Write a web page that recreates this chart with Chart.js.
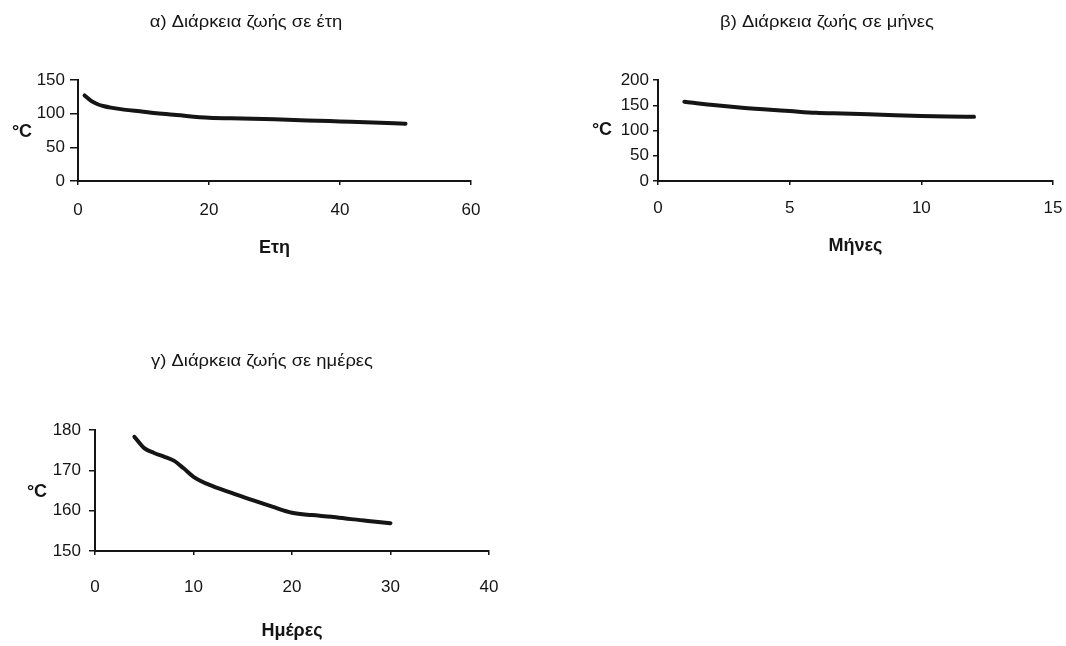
<!DOCTYPE html>
<html>
<head>
<meta charset="utf-8">
<script src="https://cdn.jsdelivr.net/npm/chart.js@4.4.1/dist/chart.umd.min.js"></script>
<style>
  html, body { margin: 0; padding: 0; background: #ffffff; }
  body { width: 1066px; height: 646px; position: relative; overflow: hidden; }
  canvas { position: absolute; }
</style>
</head>
<body>
<canvas id="cA" width="540" height="270" style="left:0px;top:0px;width:540px;height:270px"></canvas>
<canvas id="cB" width="520" height="270" style="left:560px;top:0px;width:520px;height:270px"></canvas>
<canvas id="cG" width="540" height="316" style="left:0px;top:330px;width:540px;height:316px"></canvas>
<script>
// ---- Data ----
const yearsX   = [1, 2, 3, 4, 5, 7, 10, 12, 15, 20, 25, 30, 35, 40, 45, 50];
const yearsY   = [127, 119, 114, 111, 109, 106, 103, 100.5, 98, 94, 92.8, 91.6, 90, 88.5, 87, 85];

const monthsX  = [1, 2, 3, 4, 5, 6, 7, 8, 9, 10, 11, 12];
const monthsY  = [157, 151, 146, 142, 138.5, 135, 133.5, 132, 130, 128.5, 127.5, 127];

const daysX    = [4, 5, 6, 7, 8, 9, 10, 12, 14, 16, 18, 20, 22, 24, 26, 28, 30];
const daysY    = [178.3, 175.5, 174.3, 173.4, 172.4, 170.5, 168.4, 166, 164.3, 162.6, 161, 159.5, 158.9, 158.5, 157.9, 157.4, 156.9];

const titles   = ['α) Διάρκεια ζωής σε έτη', 'β) Διάρκεια ζωής σε μήνες', 'γ) Διάρκεια ζωής σε ημέρες'];
const xTitles  = ['Ετη', 'Μήνες', 'Ημέρες'];
const yTitle   = '°C';

const xRangeA = [0, 60, 20],  yRangeA = [0, 150, 50];
const xRangeB = [0, 15, 5],   yRangeB = [0, 200, 50];
const xRangeG = [0, 40, 10],  yRangeG = [150, 180, 10];

// ---- Helpers ----
const INK = '#151515';
const FONT = "'Liberation Sans', Arial, sans-serif";

const freeText = {
  id: 'freeText',
  afterDraw(chart, args, opts) {
    const ctx = chart.ctx;
    (opts.items || []).forEach(it => {
      ctx.save();
      ctx.fillStyle = INK;
      ctx.textAlign = 'center';
      ctx.textBaseline = 'middle';
      ctx.font = it.font;
      ctx.translate(it.x, it.y);
      ctx.scale(it.sx || 1, 1);
      ctx.fillText(it.text, 0, 0);
      ctx.restore();
    });
  }
};

function makeChart(id, xs, ys, xr, yr, s) {
  const pts = xs.map((x, i) => ({ x: x, y: ys[i] }));
  return new Chart(document.getElementById(id), {
    type: 'line',
    data: {
      datasets: [{
        data: pts,
        borderColor: INK,
        borderWidth: 4,
        pointRadius: 0,
        fill: false,
        cubicInterpolationMode: 'monotone',
        borderCapStyle: 'round',
        borderJoinStyle: 'round'
      }]
    },
    options: {
      responsive: false,
      animation: false,
      devicePixelRatio: 1,
      layout: { padding: s.pad },
      plugins: {
        legend: { display: false },
        tooltip: { enabled: false },
        title: { display: false },
        freeText: { items: s.texts }
      },
      scales: {
        x: {
          type: 'linear',
          min: xr[0], max: xr[1],
          afterFit: sc => { sc.height = s.xHeight; },
          ticks: {
            stepSize: xr[2],
            color: INK,
            padding: s.xTickPad,
            maxRotation: 0,
            font: { family: FONT, size: 17 }
          },
          grid: { drawOnChartArea: false, drawTicks: true, tickLength: 4, color: INK, lineWidth: 1.5 },
          border: { display: true, color: INK, width: 2 },
          title: {
            display: true,
            text: s.xTitle,
            color: INK,
            font: { family: FONT, size: 18, weight: 'bold' },
            padding: { top: 0, bottom: s.xTitlePad }
          }
        },
        y: {
          type: 'linear',
          min: yr[0], max: yr[1],
          afterFit: sc => { sc.width = s.yWidth; },
          ticks: {
            stepSize: yr[2],
            color: INK,
            padding: s.yTickPad,
            font: { family: FONT, size: 17 }
          },
          grid: { drawOnChartArea: false, drawTicks: true, tickLength: s.yTickLen, color: INK, lineWidth: 1.5 },
          border: { display: true, color: INK, width: 2 }
        }
      }
    },
    plugins: [freeText]
  });
}

makeChart('cA', yearsX, yearsY, xRangeA, yRangeA, {
  pad: { top: 80, left: 0, right: 69, bottom: 0 },
  xHeight: 89, yWidth: 78, xTickPad: 15, xTitlePad: 11, yTickPad: 5, yTickLen: 8,
  xTitle: xTitles[0],
  texts: [
    { text: titles[0], x: 246, y: 23, font: "16px " + FONT, sx: 1.15 },
    { text: yTitle, x: 22, y: 132, font: "bold 18px " + FONT }
  ]
});

makeChart('cB', monthsX, monthsY, xRangeB, yRangeB, {
  pad: { top: 80, left: 0, right: 27, bottom: 0 },
  xHeight: 89, yWidth: 98, xTickPad: 13, xTitlePad: 13, yTickPad: 4, yTickLen: 5,
  xTitle: xTitles[1],
  texts: [
    { text: titles[1], x: 267, y: 23, font: "16px " + FONT, sx: 1.15 },
    { text: yTitle, x: 42, y: 130, font: "bold 18px " + FONT }
  ]
});

makeChart('cG', daysX, daysY, xRangeG, yRangeG, {
  pad: { top: 100, left: 0, right: 51, bottom: 0 },
  xHeight: 95, yWidth: 95, xTickPad: 22, xTitlePad: 4, yTickPad: 8, yTickLen: 6,
  xTitle: xTitles[2],
  texts: [
    { text: titles[2], x: 262, y: 32, font: "16px " + FONT, sx: 1.15 },
    { text: yTitle, x: 37, y: 162, font: "bold 18px " + FONT }
  ]
});
</script>
</body>
</html>
